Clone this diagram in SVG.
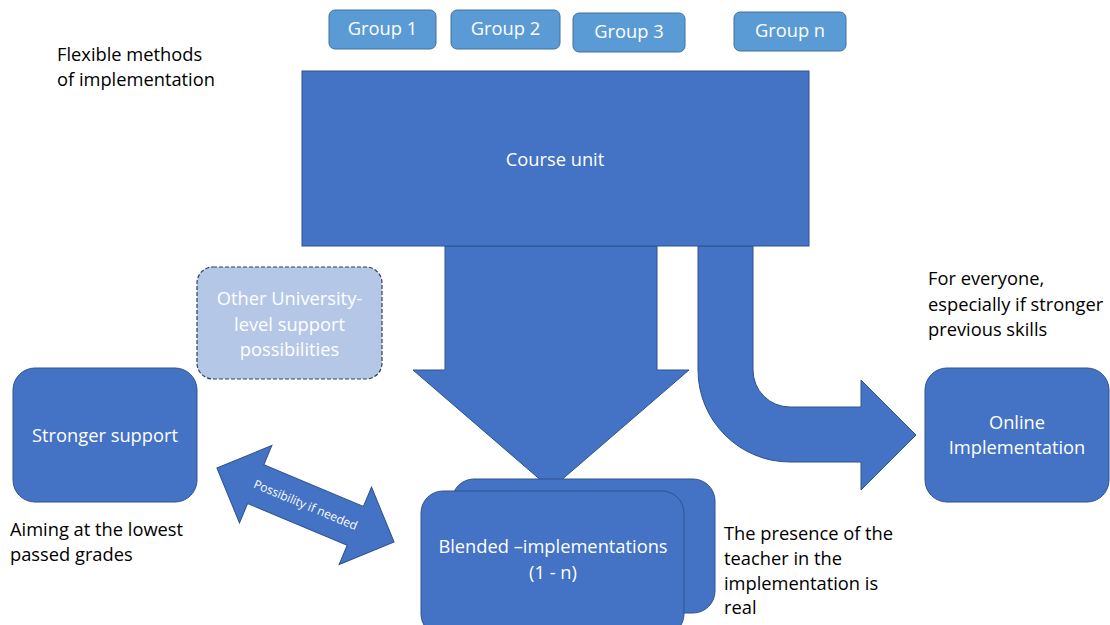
<svg xmlns="http://www.w3.org/2000/svg" width="1110" height="625" viewBox="0 0 1110 625">
<style>
text{font-family:"Open Sans","Liberation Sans",sans-serif;font-size:18.3px}
.w{fill:#fff;text-anchor:middle}
.k{fill:#000}
.grp{fill:#5b9bd5;stroke:#41719c;stroke-width:1}
.main{fill:#4472c4;stroke:#2f528f;stroke-width:1}
</style>
<rect width="1110" height="625" fill="#fff"/>
<g id="connectors">
<path class="main" d="M445,246 L657,246 L657,370 L689,370 L551,489 L413,370 L445,370 Z"/>
<path class="main" d="M698,246 L753,246 L753,370 A37,37 0 0 0 790,407 L861,407 L861,380 L916,435 L861,490 L861,462 L790,462 A92,92 0 0 1 698,370 Z"/>
<g transform="translate(305.5,505) rotate(22.7)">
<polygon class="main" points="-96,0 -54,-42 -54,-21 54,-21 54,-42 96,0 54,42 54,21 -54,21 -54,42"/>
<text class="w" x="0" y="4" style="font-size:12px">Possibility if needed</text>
</g>
</g>
<g id="group1"><rect class="grp" x="329" y="10" width="107" height="39" rx="6"/><text class="w" x="382.5" y="35">Group 1</text></g>
<g id="group2"><rect class="grp" x="451" y="10" width="109" height="39" rx="6"/><text class="w" x="505.5" y="35">Group 2</text></g>
<g id="group3"><rect class="grp" x="573" y="13" width="112" height="39" rx="6"/><text class="w" x="629" y="38">Group 3</text></g>
<g id="groupn"><rect class="grp" x="734" y="12" width="112" height="39" rx="6"/><text class="w" x="790" y="37">Group n</text></g>
<g id="course"><rect class="main" x="302" y="71" width="507" height="175"/><text class="w" x="555" y="166">Course unit</text></g>
<g id="other"><rect x="197" y="267" width="185" height="112" rx="16" fill="#b4c7e7" stroke="#2f3f5f" stroke-width="1.2" stroke-dasharray="4,2"/>
<text class="w" x="289.5" y="305">Other University-</text><text class="w" x="289.5" y="331">level support</text><text class="w" x="289.5" y="356">possibilities</text></g>
<g id="stronger"><rect class="main" x="13" y="368" width="184" height="134" rx="22"/><text class="w" x="105" y="442">Stronger support</text></g>
<g id="online"><rect class="main" x="925" y="368" width="184" height="134" rx="22"/><text class="w" x="1017" y="429">Online</text><text class="w" x="1017" y="454">Implementation</text></g>
<g id="blended">
<rect class="main" x="452" y="479" width="263" height="134" rx="22"/>
<rect class="main" x="421" y="491" width="263" height="145" rx="22"/>
<text class="w" x="553" y="553">Blended –implementations</text><text class="w" x="553" y="579">(1 - n)</text>
</g>
<g id="labels">
<text class="k" x="57" y="61">Flexible methods</text><text class="k" x="57" y="86">of implementation</text>
<text class="k" x="928" y="285">For everyone,</text><text class="k" x="928" y="311">especially if stronger</text><text class="k" x="928" y="336">previous skills</text>
<text class="k" x="10" y="536">Aiming at the lowest</text><text class="k" x="10" y="561">passed grades</text>
<text class="k" x="724" y="540">The presence of the</text><text class="k" x="724" y="565">teacher in the</text><text class="k" x="724" y="590">implementation is</text><text class="k" x="724" y="614">real</text>
</g>
</svg>
